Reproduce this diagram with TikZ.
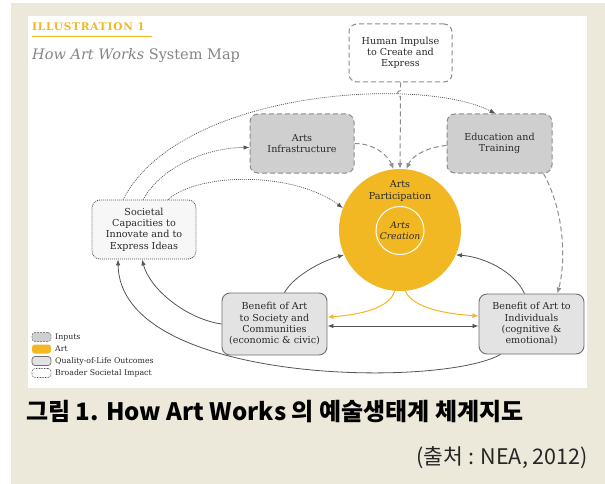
\documentclass[tikz,border=0pt]{standalone}
\usepackage{fontspec}
\setmainfont{DejaVu Serif}
\newfontfamily\krfont{Noto Sans CJK KR}
\newfontfamily\titlefont{DejaVu Serif Bold}[LetterSpace=8]
\usetikzlibrary{arrows.meta}
\definecolor{bgbeige}{HTML}{ECE8DA}
\definecolor{artyellow}{HTML}{F2B824}
\definecolor{inputfill}{HTML}{CFCFCF}
\definecolor{inputline}{HTML}{8C8C8C}
\definecolor{qolfill}{HTML}{E3E3E3}
\definecolor{qolline}{HTML}{6E6E6E}
\definecolor{txtdark}{HTML}{2A2A2A}
\definecolor{conline}{HTML}{555555}
\definecolor{titlegray}{HTML}{858585}
\tikzset{
  boxbase/.style={rounded corners=8pt, align=center, inner sep=0pt, text=txtdark,
    font=\fontsize{9.6}{11.3}\selectfont, minimum width=104pt, minimum height=59pt},
  inputbox/.style={boxbase, fill=inputfill, draw=inputline, line width=1pt, dash pattern=on 5pt off 3pt},
  impulsebox/.style={boxbase, fill=white, draw=inputline, line width=1pt, dash pattern=on 5pt off 3pt},
  societybox/.style={boxbase, fill=white!97!black, draw=conline, line width=0.8pt, dash pattern=on 1pt off 1pt},
  qolbox/.style={boxbase, fill=qolfill, draw=qolline, line width=0.9pt},
  dashcon/.style={draw=inputline, line width=1pt, dash pattern=on 5pt off 3pt, -{Latex[length=6pt,width=5pt]}},
  dotcon/.style={draw=conline, line width=0.7pt, dash pattern=on 1pt off 1pt, -{Latex[length=6pt,width=4.5pt]}},
  solidcon/.style={draw=conline, line width=0.8pt, -{Latex[length=6pt,width=4.5pt]}},
  yelcon/.style={draw=artyellow, line width=1pt, -{Latex[length=6pt,width=5pt]}},
  legicon/.style={rounded corners=3pt, minimum width=19pt, minimum height=9pt, inner sep=0pt},
  leglabel/.style={anchor=west, inner sep=0pt, text=txtdark, font=\fontsize{7.8}{9}\selectfont},
}
\begin{document}
\begin{tikzpicture}[x=1pt,y=-1pt]
\useasboundingbox (0,0) rectangle (605,484);
\fill[white] (0,0) rectangle (605,484);
\fill[bgbeige] (11,3) rectangle (605,484);
\fill[white] (28,16) rectangle (587,388);

% titles
\node[anchor=base west, inner sep=0pt, text=artyellow, font=\titlefont\fontsize{10.5}{12}\selectfont] (ill) at (32,31) {ILLUSTRATION 1};
\coordinate (ulA) at (32,36.5);
\coordinate (ulB) at (152,36.5);
\draw[artyellow, line width=1.8pt] (ulA) -- (ulB);
\node[anchor=base west, inner sep=0pt, text=titlegray, font=\fontsize{14.5}{16}\selectfont] (map) at (32,60) {\itshape How Art Works\upshape{} System Map};

% nodes
\node[impulsebox, minimum width=103pt, minimum height=58pt] (human) at (400.5,53) {Human Impulse\\to Create and\\Express};
\node[inputbox] (infra) at (302,143.5) {Arts\\Infrastructure};
\node[inputbox, minimum width=105pt] (edu) at (499.5,143.5) {Education and\\Training};
\node[circle, fill=artyellow, minimum size=122pt, inner sep=0pt] (part) at (400,230) {};
\node[align=center, inner sep=0pt, text=txtdark, font=\fontsize{9.6}{11.3}\selectfont] (ptext) at (400,191) {Arts\\Participation};
\node[circle, draw=white, line width=1pt, minimum size=48pt, inner sep=0pt, align=center, text=txtdark, font=\itshape\fontsize{9.2}{11.3}\selectfont] (crea) at (400,230.5) {Arts\\Creation};
\node[societybox] (soc) at (144,229.5) {Societal\\Capacities to\\Innovate and to\\Express Ideas};
\node[qolbox, minimum width=105pt, minimum height=62pt] (bsoc) at (274.5,324) {Benefit of Art\\to Society and\\Communities\\(economic \& civic)};
\node[qolbox, minimum width=105pt, minimum height=60pt] (bind) at (531.5,324) {Benefit of Art to\\Individuals\\(cognitive \&\\emotional)};

% connectors
\draw[dotcon] ([xshift=-21pt]soc.north) .. controls +(57,-110) and +(-75,-38) .. ([xshift=-4pt]edu.north);
\draw[dashcon] (human.south) -- ([yshift=-8pt]human.south) arc[start angle=90, end angle=270, radius=3pt] -- (part.north);
\draw[dashcon] (infra.east) .. controls +(22,0) and +(-5,-12) .. (part.96);
\draw[dashcon] ([yshift=-2pt]edu.west) .. controls +(-22,2) and +(5,-12) .. (part.84);
\draw[dashcon] ([xshift=-9pt]edu.south east) .. controls +(22,40) and +(8,-30) .. ([xshift=-27pt]bind.north east);
\draw[dotcon] ([xshift=-1pt]soc.north) .. controls +(20,-35) and +(-40,0) .. ([yshift=-4pt]infra.west);
\draw[dotcon] ([xshift=24pt]soc.north) .. controls +(32,-28) and +(-48,-36) .. (part.159);
\draw[solidcon] ([xshift=10pt]bsoc.north) .. controls +(8,-15) and +(-25,7) .. (part.204);
\draw[solidcon] ([xshift=-7pt]bind.north) .. controls +(-10,-22) and +(28,2) .. (part.336);
\draw[yelcon] (part.265) .. controls +(-5,18) and +(30,-2) .. ([yshift=7pt]bsoc.east);
\draw[yelcon] (part.275) .. controls +(8,18) and +(-30,-2) .. ([yshift=8pt]bind.west);
\draw[draw=conline, line width=0.8pt, {Latex[length=6pt,width=4.5pt]}-{Latex[length=6pt,width=4.5pt]}] ([yshift=-2pt]bsoc.east) -- ([yshift=-2pt]bind.west);
\draw[solidcon] (bsoc.west) .. controls +(-35,-5) and +(8,30) .. ([xshift=-2pt]soc.south);
\draw[solidcon] ([xshift=-31pt]bind.south) .. controls +(-60,34) and +(2,125) .. ([xshift=-26pt]soc.south);

% legend
\node[legicon, fill=inputfill, draw=inputline, line width=0.7pt, dash pattern=on 2pt off 1pt] (li1) at (41.5,337) {};
\node[legicon, fill=artyellow] (li2) at (41.5,349) {};
\node[legicon, fill=qolfill, draw=qolline, line width=0.7pt] (li3) at (41.5,361) {};
\node[legicon, fill=white, draw=conline, line width=0.6pt, dash pattern=on 0.8pt off 0.8pt] (li4) at (41.5,373) {};
\node[leglabel] (ll1) at (55,337) {Inputs};
\node[leglabel] (ll2) at (55,349) {Art};
\node[leglabel] (ll3) at (55,361) {Quality-of-Life Outcomes};
\node[leglabel] (ll4) at (55,373) {Broader Societal Impact};

% caption
\node[anchor=west, inner sep=0pt, text=black, font=\krfont\bfseries\fontsize{24}{28}\selectfont] (cap) at (26,412) {그림 1. How Art Works 의 예술생태계 체계지도};
\node[anchor=east, inner sep=0pt, text=black!85, font=\krfont\fontsize{21.5}{25}\selectfont] (src) at (588,458) {(출처 : NEA, 2012)};
\end{tikzpicture}
\end{document}
